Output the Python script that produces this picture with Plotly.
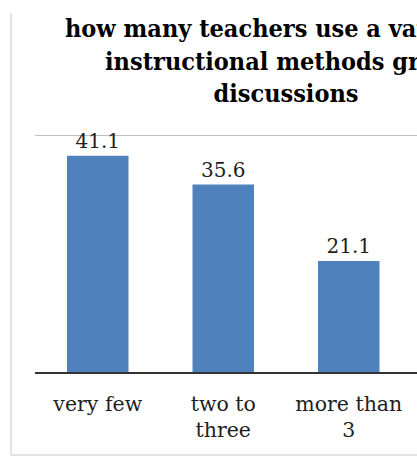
import plotly.graph_objects as go

# Survey answers: how many instructional methods teachers use (percent)
categories = ["very few", "two to<br>three", "more than<br>3"]
percentages = [41.1, 35.6, 21.1]
value_labels = ["41.1", "35.6", "21.1"]

title_text = ("how many teachers use a variety of<br>"
              "instructional methods group<br>discussions")

W, H = 417, 470
L, R, T, B = 35, 0, 133, 98

fig = go.Figure(
    go.Bar(
        x=categories,
        y=percentages,
        text=value_labels,
        textposition="outside",
        textfont=dict(family="DejaVu Serif", size=20, color="#1e1e1e"),
        marker=dict(color="#4F81BD", line=dict(width=0)),
        width=0.49,
        cliponaxis=False,
    )
)

plot_w = W - L - R
plot_h = H - T - B


def px_to_paper_x(px):
    return (px - L) / plot_w


def px_to_paper_y(py):
    return (H - B - py) / plot_h


# chart-area frame: left and bottom edges only
frame = dict(color="#c8c8c8", width=1)
fig.add_shape(type="line", xref="paper", yref="paper",
              x0=px_to_paper_x(11), x1=px_to_paper_x(11),
              y0=px_to_paper_y(13), y1=px_to_paper_y(455), line=frame)
fig.add_shape(type="line", xref="paper", yref="paper",
              x0=px_to_paper_x(11), x1=px_to_paper_x(W + 5),
              y0=px_to_paper_y(455), y1=px_to_paper_y(455), line=frame)

fig.update_layout(
    width=W,
    height=H,
    margin=dict(l=L, r=R, t=T, b=B, pad=0),
    paper_bgcolor="white",
    plot_bgcolor="white",
    showlegend=False,
    title=dict(
        text=title_text,
        x=286 / W,
        xanchor="center",
        xref="container",
        y=1 - 37 / H,
        yanchor="top",
        font=dict(family="DejaVu Serif Condensed, DejaVu Serif", size=25,
                  color="#000000", weight="bold"),
    ),
    xaxis=dict(
        range=[-0.5, -0.5 + plot_w / 125.5],
        showline=True,
        linecolor="#333333",
        linewidth=2,
        ticks="",
        showgrid=False,
        ticklabelstandoff=12,
        tickfont=dict(family="DejaVu Serif", size=20.5, color="#1e1e1e"),
        fixedrange=True,
    ),
    yaxis=dict(
        range=[0, 45.4],
        tickvals=[45],
        showticklabels=False,
        showgrid=True,
        gridcolor="#bdbdbd",
        gridwidth=1,
        zeroline=False,
        showline=False,
        ticks="",
        fixedrange=True,
    ),
)

fig.write_html("out.html")
